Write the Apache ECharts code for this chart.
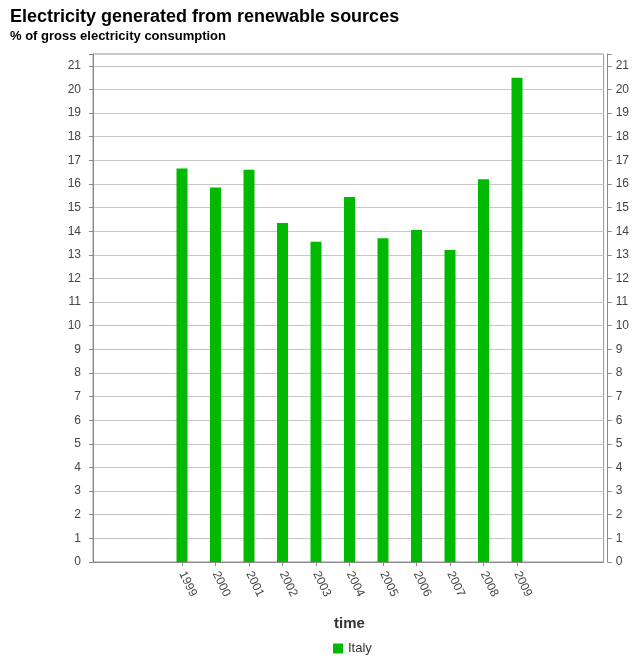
<!DOCTYPE html>
<html>
<head>
<meta charset="utf-8">
<script src="https://cdn.jsdelivr.net/npm/echarts@6/dist/echarts.min.js"></script>
<style>
  html, body { margin: 0; padding: 0; background: #fff; }
  #chart { width: 632px; height: 659px; }
</style>
</head>
<body>
<div id="chart"></div>
<script>
// Share of electricity from renewable sources, Italy
const years = ['1999', '2000', '2001', '2002', '2003', '2004', '2005', '2006', '2007', '2008', '2009'];
const italy = [16.65, 15.85, 16.6, 14.35, 13.55, 15.45, 13.7, 14.05, 13.2, 16.2, 20.5];
const seriesName = 'Italy';
const yMin = 0;
const yMax = 21.5;

const FONT = '"Liberation Sans", Arial, sans-serif';
const GREEN = '#00b900';
const AXIS = '#8a8a8a';
const LABEL = '#444';

const intLabel = v => (Number.isInteger(v) ? String(v) : '');

const chart = echarts.init(document.getElementById('chart'));
chart.setOption({
  animation: false,
  textStyle: { fontFamily: FONT },
  title: {
    text: 'Electricity generated from renewable sources',
    subtext: '% of gross electricity consumption',
    left: 5,
    top: 3,
    itemGap: 4,
    textStyle: { fontFamily: FONT, fontSize: 18, fontWeight: 'bold', color: '#000' },
    subtextStyle: { fontFamily: FONT, fontSize: 13, fontWeight: 'bold', color: '#000' }
  },
  legend: {
    top: 637,
    left: 328,
    itemWidth: 10,
    itemHeight: 10,
    itemGap: 6,
    icon: 'rect',
    textStyle: { fontFamily: FONT, fontSize: 13, color: '#333' },
    data: [seriesName]
  },
  grid: [
    // plot frame with gridlines and both value axes
    { left: 93, right: 25, top: 54, bottom: 97, show: true, borderColor: '#999', borderWidth: 1, backgroundColor: '#fff' },
    // band where the yearly bars sit
    { left: 165.25, width: 368.5, top: 54, bottom: 97 }
  ],
  xAxis: [
    {
      gridIndex: 0, type: 'value', min: 0, max: 1, offset: 2,
      axisLine: { show: true, lineStyle: { color: AXIS } },
      axisTick: { show: false }, axisLabel: { show: false }, splitLine: { show: false }
    },
    {
      gridIndex: 1, type: 'category', data: years, offset: 2,
      axisLine: { show: false },
      axisTick: { show: true, alignWithLabel: true, length: 4, lineStyle: { color: AXIS } },
      axisLabel: { rotate: -64, fontSize: 12, color: LABEL, margin: 8, fontFamily: FONT },
      name: 'time', nameLocation: 'middle', nameGap: 52,
      nameTextStyle: { fontSize: 15, fontWeight: 'bold', color: '#333', fontFamily: FONT }
    }
  ],
  yAxis: [
    {
      gridIndex: 0, type: 'value', min: yMin, max: yMax, interval: 1, position: 'left', offset: 2,
      axisLine: { show: true, lineStyle: { color: AXIS } },
      axisTick: { show: true, length: 4, lineStyle: { color: AXIS } },
      axisLabel: { formatter: intLabel, fontSize: 12, color: LABEL, margin: 10, fontFamily: FONT },
      splitLine: { show: true, lineStyle: { color: '#c8c8c8' } }
    },
    {
      gridIndex: 0, type: 'value', min: yMin, max: yMax, interval: 1, position: 'right', offset: 4,
      axisLine: { show: true, lineStyle: { color: AXIS } },
      axisTick: { show: true, length: 4, lineStyle: { color: AXIS } },
      axisLabel: { formatter: intLabel, fontSize: 12, color: LABEL, margin: 8, fontFamily: FONT },
      splitLine: { show: false }
    },
    {
      gridIndex: 1, type: 'value', min: yMin, max: yMax, show: false, splitLine: { show: false }
    }
  ],
  series: [
    {
      name: seriesName,
      type: 'bar',
      xAxisIndex: 1,
      yAxisIndex: 2,
      data: italy,
      barWidth: 11,
      itemStyle: { color: GREEN }
    }
  ]
});
</script>
</body>
</html>
